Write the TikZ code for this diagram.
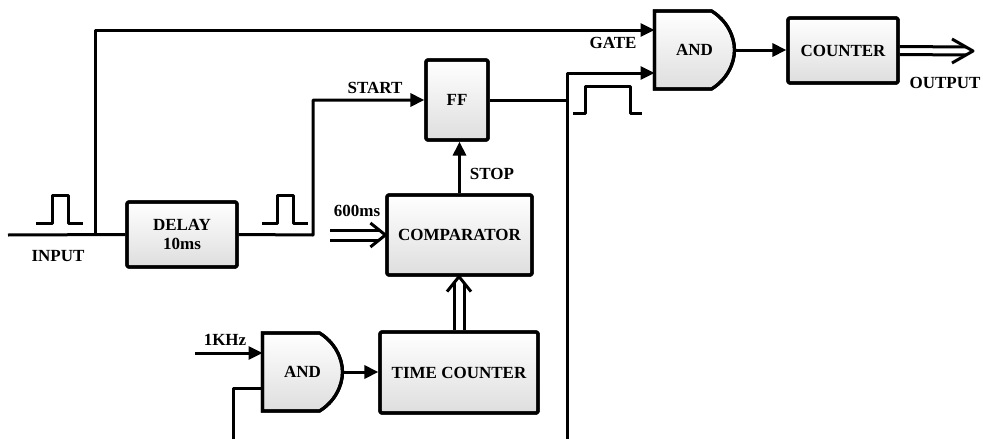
\documentclass[tikz,border=0pt]{standalone}
\usepackage{fontspec}
\setmainfont{Liberation Serif}
\usetikzlibrary{arrows.meta,calc,backgrounds}
\begin{document}
\begin{tikzpicture}[x=1pt,y=-1pt,
  font=\fontsize{17}{19.5}\selectfont\bfseries,
  line join=round,
  every path/.append style={line width=3pt},
  blk/.style={draw, line width=3.2pt, rounded corners=1.5pt, top color=white, bottom color=black!13, postaction={draw, line width=3.2pt}, inner sep=0pt, align=center},
  gatebody/.style={inner sep=0pt, minimum width=77pt, minimum height=75pt},
  gateshape/.style={draw, line width=3.2pt, top color=white, bottom color=black!13, postaction={draw, line width=3.2pt}},
  arr/.style={-{Triangle[length=14pt,width=13pt]}},
  lbl/.style={inner sep=0pt}
]
\useasboundingbox (0,0) rectangle (983,439);

% blocks
\node[blk, minimum width=110pt, minimum height=65pt] (delay) at (182,234.5) {DELAY\\10ms};
\node[blk, minimum width=62pt, minimum height=80pt] (ff) at (457,100) {FF};
\node[blk, minimum width=145pt, minimum height=80pt] (cmp) at (459.5,235) {COMPARATOR};
\node[blk, minimum width=158pt, minimum height=81pt] (tc) at (459,372.5) {TIME COUNTER};
\node[blk, minimum width=110pt, minimum height=65pt] (cnt) at (843,50.5) {COUNTER};

% AND gates
\node[gatebody] (and1) at (694.5,50) {AND};
\node[gatebody] (and2) at (302.5,372) {AND};
\begin{pgfonlayer}{background}
\foreach \g in {and1,and2}{
  \path[gateshape] (\g.north west) -- ($(\g.north west)+(57,0)$)
    .. controls ($(\g.north west)+(72,9)$) and ($(\g.east)+(0,-14)$) .. (\g.east)
    .. controls ($(\g.east)+(0,14)$) and ($(\g.south west)+(72,-9)$) .. ($(\g.south west)+(57,0)$)
    -- (\g.south west) -- cycle;
}
\end{pgfonlayer}

% labels
\node[lbl] (linput) at (58,256) {INPUT};
\node[lbl] (lstart) at (375,88) {START};
\node[lbl] (lgate) at (613,43) {GATE};
\node[lbl] (loutput) at (945,83) {OUTPUT};
\node[lbl] (lstop) at (492,174) {STOP};
\node[lbl] (l600) at (357,211) {600ms};
\node[lbl] (lkhz) at (225,340) {1KHz};

% free ends
\coordinate (inp) at (8,235);
\coordinate (br) at (95,235);
\coordinate (s600) at (330,235);
\coordinate (khz) at (195,353);
\coordinate (outp) at (973,51);
\coordinate (bl) at (233,439);
\coordinate (br2) at (567,439);

% connectors
\draw (inp) -- (delay.west);
\draw[arr] (br) |- ($(and1.west)+(0,-20)$);
\draw[arr] (delay.east) -- (313,235) |- (ff.west);
\draw (ff.east) -- (567,100);
\draw (bl) -- (233,388) -- ($(and2.west)+(0,16)$);
\draw[arr] (br2) -- (567,73) -- ($(and1.west)+(0,23)$);
\draw[arr] (khz) -- ($(and2.west)+(0,-19)$);
\draw[arr] (and2.east) -- (and2.east -| tc.west);
\draw[arr] (cmp.north) -- (cmp.north |- ff.south);
\draw[arr] (and1.east) -- (and1.east -| cnt.west);

% double arrow 600ms -> comparator
\draw ($(s600)+(0,-5)$) -- ($(cmp.west)+(-6,-5)$);
\draw ($(s600)+(0,5)$) -- ($(cmp.west)+(-6,5)$);
\draw ($(cmp.west)+(-15,-12)$) -- (cmp.west) -- ($(cmp.west)+(-15,12)$);

% double arrow time counter -> comparator
\coordinate (tip2) at (tc.north |- cmp.south);
\draw ($(tc.north)+(-5,0)$) -- ($(tip2)+(-5,6)$);
\draw ($(tc.north)+(5,0)$) -- ($(tip2)+(5,6)$);
\draw ($(tip2)+(-12,15)$) -- (tip2) -- ($(tip2)+(12,15)$);

% double arrow counter -> output
\draw ($(cnt.east)+(0,-4)$) -- ($(outp)+(-7,-4)$);
\draw ($(cnt.east)+(0,4)$) -- ($(outp)+(-7,4)$);
\draw ($(outp)+(-21,-12)$) -- (outp) -- ($(outp)+(-21,12)$);

% pulses
\draw (36,223) -- (52,223) -- (52,195) -- (68,195) -- (68,223) -- (83,223);
\draw (262,223) -- (277,223) -- (277,195) -- (293,195) -- (293,223) -- (308,223);
\draw (573,113) -- (585,113) -- (585,86) -- (630,86) -- (630,113) -- (642,113);
\end{tikzpicture}
\end{document}
